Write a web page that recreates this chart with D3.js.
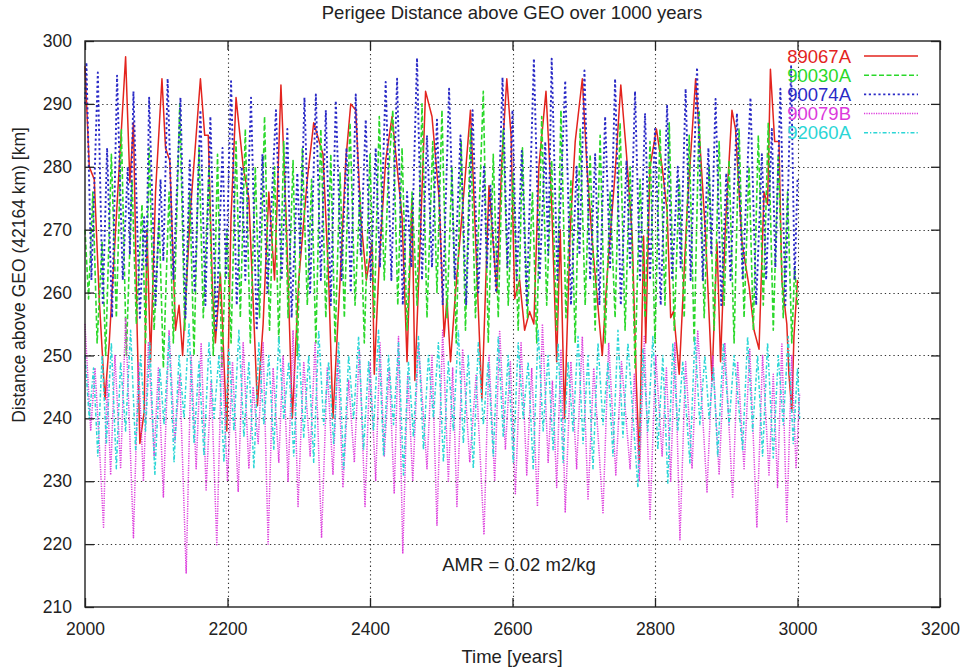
<!DOCTYPE html>
<html>
<head>
<meta charset="utf-8">
<script src="https://cdn.jsdelivr.net/npm/d3@7"></script>
<style>
  html, body { margin: 0; padding: 0; background: #fff; }
  svg { display: block; font-family: "Liberation Sans", Arial, Helvetica, sans-serif; }
</style>
</head>
<body>
<svg id="chart" width="967" height="672"></svg>
<script>
// Tick values for both axes
const xTicks = [2000, 2200, 2400, 2600, 2800, 3000, 3200];
const yTicks = [210, 220, 230, 240, 250, 260, 270, 280, 290, 300];

// Satellite identifiers, in plotting order
const satellites = ["89067A", "90030A", "90074A", "90079B", "92060A"];

// Perigee distance above GEO [km] versus time [years], as [year, km]
const s89067A = [[2000,296],[2006,280],[2013,278],[2020,259],[2028,243],[2034,252],[2045,274],[2057,297.5],[2063,277.5],[2068,287],[2073,255],[2077,236],[2083,241],[2087,270],[2092,249],[2099,276],[2108,294],[2113,283],[2119,281],[2127,254],[2132,258],[2137,250],[2148,273],[2162,294],[2168,285],[2173,285],[2179,260],[2183,252],[2190,263],[2199,238],[2205,272],[2212,291],[2222,280],[2230,275],[2242,242],[2250,255],[2258,276],[2266,262],[2275,293],[2282,273],[2291,240],[2300,262],[2312,278],[2321,287],[2334,282],[2342,262],[2348,240],[2358,262],[2366,281],[2373,290],[2380,289],[2387,272],[2395,262],[2403,268],[2406,247],[2413,265],[2422,281],[2431,288],[2438,280],[2445,272],[2452,249],[2459,275],[2463,246],[2471,270],[2478,292],[2487,288],[2497,275],[2504,253],[2508,259],[2513,249],[2520,260],[2534,279],[2541,289],[2548,269],[2557,243],[2567,277],[2578,260],[2585,281],[2592,294],[2598,285],[2603,259],[2610,262],[2617,254],[2624,257],[2630,255],[2637,280],[2647,292],[2655,274],[2662,249],[2667,270],[2673,240],[2681,270],[2688,284],[2698,294],[2705,279],[2712,268],[2726,250],[2733,263],[2744,279],[2752,293],[2760,282],[2768,269],[2774,245],[2778,233],[2784,269],[2787,252],[2793,280],[2802,286],[2810,280],[2817,273],[2822,256],[2826,257],[2834,247],[2845,273],[2857,294],[2864,282],[2871,269],[2880,246],[2887,268],[2892,249],[2899,271],[2908,289],[2913,286],[2922,268],[2932,261],[2939,254],[2946,251],[2953,276],[2958,274],[2962,295.5],[2968,284],[2974,284],[2978,262],[2985,255],[2988,247],[2992,241],[2995,253],[3000,262]];

const s90030A = [[2000,270],[2005,259],[2011,276],[2017,252],[2024,268],[2029,250],[2037,282],[2044,256],[2051,286],[2058,250],[2066,278],[2072,255],[2080,274],[2085,252],[2090,283],[2097,254],[2104,272],[2110,248],[2118,276],[2124,252],[2133,290],[2140,254],[2147,276],[2153,250],[2160,283],[2166,256],[2174,280],[2180,250],[2186,282],[2192,248],[2199,270],[2205,252],[2212,284],[2218,256],[2225,286],[2232,252],[2239,280],[2245,256],[2252,288],[2259,254],[2266,280],[2272,252],[2279,284],[2285,256],[2292,281],[2298,250],[2305,283],[2312,258],[2318,278],[2324,252],[2331,286],[2338,256],[2345,282],[2351,252],[2358,279],[2364,256],[2372,287],[2379,258],[2386,276],[2392,252],[2400,282],[2406,256],[2413,288],[2420,262],[2426,279],[2432,289],[2439,258],[2445,283],[2452,254],[2459,276],[2466,258],[2473,290],[2480,256],[2488,284],[2494,260],[2501,289],[2508,256],[2515,280],[2521,252],[2528,284],[2534,254],[2541,286],[2548,256],[2559,292],[2566,252],[2573,282],[2580,256],[2587,286],[2594,258],[2601,279],[2608,254],[2614,283],[2621,256],[2628,276],[2634,252],[2641,288],[2648,258],[2655,281],[2662,254],[2668,289],[2675,256],[2682,278],[2688,252],[2695,286],[2702,258],[2709,282],[2716,254],[2723,285],[2730,252],[2737,276],[2744,256],[2751,287],[2758,254],[2765,280],[2772,248],[2779,278],[2786,256],[2793,284],[2800,252],[2807,286],[2814,258],[2820,287],[2827,254],[2834,278],[2841,256],[2848,285],[2855,252],[2862,289],[2869,256],[2876,280],[2883,254],[2890,284],[2897,258],[2904,281],[2911,252],[2918,286],[2925,256],[2932,280],[2938,254],[2945,285],[2952,258],[2959,287],[2966,254],[2973,282],[2980,256],[2986,276],[2992,252],[2996,264],[3000,258]];

const s90074A = [[2000,290],[2002,296.6],[2009,262],[2018,295],[2025,258],[2031,283],[2038,256],[2045,294.5],[2053,262],[2060,280],[2063,266],[2068,292],[2077,256],[2083,272],[2086,264],[2090,291],[2099,258],[2106,278],[2110,265],[2116,294],[2124,262],[2134,291],[2141,256],[2147,281],[2154,260],[2162,289],[2169,258],[2176,288],[2184,254],[2193,283],[2198,262],[2205,293.6],[2213,258],[2220,280],[2225,262],[2233,291],[2241,254],[2249,282],[2256,260],[2268,289],[2276,262],[2284,286],[2290,256],[2298,279],[2302,266],[2308,291],[2316,260],[2324,291.5],[2331,262],[2338,289],[2345,258],[2352,290.5],[2360,262],[2367,283],[2373,260],[2380,291.5],[2387,266],[2394,287.5],[2401,262],[2408,283],[2414,264],[2422,293.5],[2430,262],[2438,294],[2446,258],[2452,276],[2458,264],[2466,297.3],[2473,262],[2480,285],[2487,264],[2494,287.5],[2502,258],[2511,292.4],[2519,262],[2527,285],[2535,258],[2544,289],[2552,260],[2560,280],[2564,264],[2569,277],[2577,260],[2586,294.2],[2593,264],[2600,289],[2606,262],[2613,282.5],[2620,258],[2630,297.2],[2638,262],[2646,284],[2650,266],[2655,297.2],[2663,262],[2674,293.7],[2682,258],[2690,280],[2694,266],[2701,295.3],[2709,262],[2716,282],[2722,258],[2730,288],[2737,264],[2744,294],[2752,258],[2760,281],[2765,264],[2772,292],[2779,262],[2786,288.5],[2793,262],[2800,286],[2808,258],[2817,289.7],[2824,262],[2832,280],[2836,264],[2843,292.4],[2850,262],[2859,295.8],[2867,262],[2875,283],[2879,266],[2885,290.8],[2893,258],[2900,279],[2906,262],[2915,288.5],[2923,262],[2934,291],[2942,258],[2950,282],[2956,262],[2964,286],[2969,264],[2976,292.4],[2983,258],[2991,296],[2996,262],[3000,278]];

const s90079B = [[2000,255],[2008,238],[2014,248],[2020,236],[2026,222.7],[2031,246],[2036,231],[2042,250],[2050,232],[2057,256],[2068,221],[2075,249],[2082,230],[2089,252],[2097,234],[2103,248],[2110,227.5],[2118,254],[2126,236],[2133,247],[2142,215.4],[2149,250],[2156,232],[2163,252],[2170,228.6],[2177,246],[2185,219.9],[2192,251],[2200,230],[2207,249],[2215,228.3],[2222,252],[2230,232],[2236,245],[2243,236],[2250,252],[2257,220],[2264,248],[2272,233],[2278,250],[2285,230],[2292,254],[2299,226],[2307,249],[2316,234],[2323,252],[2332,221],[2340,248],[2348,231],[2355,250],[2362,229],[2370,246],[2378,233],[2385,251],[2393,226],[2400,249],[2408,230],[2414,252],[2420,234],[2427,248],[2434,228],[2440,253],[2446,218.5],[2453,247],[2460,230],[2468,252],[2480,232],[2487,250],[2494,223],[2502,254],[2510,230],[2516,248],[2522,226],[2530,251],[2540,233],[2549,247],[2560,221.5],[2567,250],[2575,230],[2582,254],[2590,235],[2597,249],[2604,228],[2612,252],[2620,231],[2627,248],[2635,226],[2642,255],[2650,233],[2656,246],[2662,229],[2668,251],[2674,225],[2682,249],[2690,232],[2698,253],[2706,227],[2714,248],[2727,225],[2735,252],[2745,231],[2753,249],[2765,232],[2771,247],[2778,230],[2785,253],[2793,224],[2801,250],[2810,234],[2816,248],[2822,230],[2828,252],[2835,220.7],[2843,249],[2852,232],[2860,254],[2873,228.3],[2881,250],[2890,231],[2898,252],[2909,227.3],[2916,249],[2925,232],[2933,251],[2943,222.6],[2951,250],[2960,231],[2966,247],[2972,229],[2978,252],[2985,223.4],[2992,250],[2998,232],[3003,244]];

const s92060A = [[2000,250],[2006,240],[2012,248],[2018,234],[2024,250],[2030,236],[2037,252],[2044,232],[2050,249],[2057,238],[2064,254],[2071,235],[2078,250],[2085,238],[2091,252],[2098,231],[2105,248],[2111,239],[2118,253],[2125,233],[2132,250],[2139,240],[2146,255],[2153,236],[2160,249],[2167,234],[2174,252],[2181,240],[2188,250],[2195,233],[2202,251],[2209,238],[2216,254],[2223,237],[2230,249],[2237,232],[2244,252],[2251,239],[2258,250],[2265,235],[2272,253],[2279,240],[2286,249],[2293,234],[2300,252],[2307,237],[2314,250],[2321,233],[2328,254],[2335,239],[2342,249],[2349,236],[2356,252],[2363,232],[2370,250],[2377,240],[2384,253],[2391,235],[2398,249],[2405,238],[2412,254],[2419,234],[2426,250],[2433,239],[2440,252],[2447,231],[2454,249],[2461,237],[2468,253],[2475,235],[2482,250],[2489,240],[2496,252],[2503,233],[2510,249],[2517,238],[2524,254],[2531,236],[2538,250],[2545,232],[2552,252],[2559,239],[2566,249],[2573,234],[2580,253],[2587,237],[2594,250],[2601,233],[2608,252],[2615,240],[2622,249],[2629,232],[2636,254],[2643,238],[2650,250],[2657,235],[2664,252],[2671,233],[2678,249],[2685,238],[2692,253],[2699,236],[2706,250],[2713,232],[2720,252],[2727,239],[2734,249],[2741,234],[2748,254],[2755,237],[2762,252],[2776,229],[2783,251],[2790,238],[2797,253],[2804,235],[2811,250],[2818,229.7],[2825,252],[2832,238],[2839,249],[2849,232.9],[2856,253],[2863,239],[2870,250],[2876,240],[2882,248],[2888,233.9],[2896,252],[2904,239],[2911,250],[2923,235],[2930,253],[2937,238],[2944,250],[2951,234],[2958,252],[2966,233.7],[2973,250],[2980,239],[2987,253],[2994,236],[3000,248],[3003,240]];

const seriesData = [s89067A, s90030A, s90074A, s90079B, s92060A];

// Line appearance for each satellite
const colors = ["#e3241e", "#2ad82a", "#2a2ac6", "#dc3adc", "#2cd6d6"];
const dashes = [null, "5,2.5", "2.2,2.6", "1.2,1.2", "4,2,1.3,2"];
const widths = [1.5, 1.6, 1.9, 1.5, 1.5];

const svg = d3.select("#chart");
const plot = { left: 85, right: 940, top: 41, bottom: 607 };

const x = d3.scaleLinear().domain([2000, 3200]).range([plot.left, plot.right]);
const y = d3.scaleLinear().domain([210, 300]).range([plot.bottom, plot.top]);

// Dotted grid
const grid = svg.append("g").attr("stroke", "#333").attr("stroke-width", 1.1)
  .attr("stroke-dasharray", "1.3,3");
grid.selectAll(".gx").data(xTicks.slice(1, -1)).join("line")
  .attr("x1", d => Math.round(x(d)) + 0.5).attr("x2", d => Math.round(x(d)) + 0.5)
  .attr("y1", plot.top).attr("y2", plot.bottom);
grid.selectAll(".gy").data(yTicks.slice(1, -1)).join("line")
  .attr("y1", d => Math.round(y(d)) + 0.5).attr("y2", d => Math.round(y(d)) + 0.5)
  .attr("x1", plot.left).attr("x2", plot.right);

// Data lines
const line = d3.line().x(d => x(d[0])).y(d => y(d[1]));
const lines = svg.append("g").attr("fill", "none");
seriesData.forEach((data, i) => {
  lines.append("path")
    .datum(data)
    .attr("d", line)
    .attr("stroke", colors[i])
    .attr("stroke-width", widths[i])
    .attr("stroke-dasharray", dashes[i])
    .attr("stroke-linejoin", "round");
});

// Axes with inward ticks on all four sides
const tickLen = 9;
const fmt = d3.format("d");
const labelFont = "\"Liberation Sans\", Arial, sans-serif";
svg.append("g").attr("transform", `translate(0,${plot.bottom})`)
  .call(d3.axisBottom(x).tickValues(xTicks).tickFormat(fmt).tickSizeInner(-tickLen).tickSizeOuter(0).tickPadding(tickLen + 7));
svg.append("g").attr("transform", `translate(0,${plot.top})`)
  .call(d3.axisTop(x).tickValues(xTicks).tickFormat("").tickSizeInner(-tickLen).tickSizeOuter(0));
svg.append("g").attr("transform", `translate(${plot.left},0)`)
  .call(d3.axisLeft(y).tickValues(yTicks).tickFormat(fmt).tickSizeInner(-tickLen).tickSizeOuter(0).tickPadding(tickLen + 4));
svg.append("g").attr("transform", `translate(${plot.right},0)`)
  .call(d3.axisRight(y).tickValues(yTicks).tickFormat("").tickSizeInner(-tickLen).tickSizeOuter(0));

svg.selectAll(".domain").remove();
svg.selectAll(".tick line").attr("stroke", "#222").attr("stroke-width", 1.3);
svg.selectAll(".tick text").attr("font-size", 17.5).attr("fill", "#222")
  .attr("font-family", labelFont);

// Frame
svg.append("rect")
  .attr("x", plot.left).attr("y", plot.top)
  .attr("width", plot.right - plot.left).attr("height", plot.bottom - plot.top)
  .attr("fill", "none").attr("stroke", "#222").attr("stroke-width", 1.4);

// Titles
svg.append("text").attr("x", 512).attr("y", 19).attr("text-anchor", "middle")
  .attr("font-size", 18.5).attr("fill", "#222").text("Perigee Distance above GEO over 1000 years");
svg.append("text").attr("x", 512).attr("y", 663).attr("text-anchor", "middle")
  .attr("font-size", 18.5).attr("fill", "#222").text("Time [years]");
svg.append("text").attr("transform", "translate(25,275) rotate(-90)").attr("text-anchor", "middle")
  .attr("font-size", 17.5).attr("fill", "#222").text("Distance above GEO (42164 km) [km]");
svg.append("text").attr("x", 519).attr("y", 571).attr("text-anchor", "middle")
  .attr("font-size", 18.5).attr("fill", "#222").text("AMR = 0.02 m2/kg");

// Legend
const legend = svg.append("g");
satellites.forEach((name, i) => {
  const ly = 56 + i * 19.2;
  legend.append("text").attr("x", 851).attr("y", ly + 6.5).attr("text-anchor", "end")
    .attr("font-size", 18.5).attr("fill", colors[i]).text(name);
  legend.append("line").attr("x1", 864).attr("x2", 918).attr("y1", ly).attr("y2", ly)
    .attr("stroke", colors[i]).attr("stroke-width", widths[i])
    .attr("stroke-dasharray", dashes[i]);
});
</script>
</body>
</html>
